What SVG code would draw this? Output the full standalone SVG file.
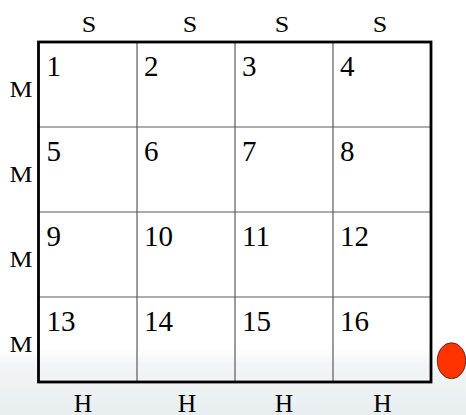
<svg xmlns="http://www.w3.org/2000/svg" width="466" height="415" viewBox="0 0 466 415">
<defs>
<linearGradient id="bg" x1="0" y1="0" x2="0" y2="1">
<stop offset="0" stop-color="#ffffff"/>
<stop offset="0.84" stop-color="#ffffff"/>
<stop offset="0.88" stop-color="#f2f5f6"/>
<stop offset="1" stop-color="#e8eef0"/>
</linearGradient>
<style>
.lbl{font-family:"Liberation Serif","Times New Roman",serif;fill:#000;text-anchor:middle}
.s{font-size:23px}
.m{font-size:22.5px}
.h{font-size:25.5px}
.num{font-family:"Liberation Serif","Times New Roman",serif;font-size:29px;fill:#000}
.inner{stroke:#5a5a5a;stroke-width:1.2;fill:none}
.outer{stroke:#000;stroke-width:2.8;fill:none}
</style>
</defs>
<rect x="0" y="0" width="466" height="415" fill="url(#bg)"/>
<g id="grid-lines">
<line class="inner" x1="137" y1="42" x2="137" y2="382"/>
<line class="inner" x1="235" y1="42" x2="235" y2="382"/>
<line class="inner" x1="333" y1="42" x2="333" y2="382"/>
<line class="inner" x1="38.5" y1="127" x2="431" y2="127"/>
<line class="inner" x1="38.5" y1="212" x2="431" y2="212"/>
<line class="inner" x1="38.5" y1="297" x2="431" y2="297"/>
<rect class="outer" x="38.5" y="42" width="392.5" height="340"/>
</g>
<g id="top-labels">
<text class="lbl s" x="89" y="32" textLength="14.5" lengthAdjust="spacingAndGlyphs">S</text>
<text class="lbl s" x="190" y="32" textLength="14.5" lengthAdjust="spacingAndGlyphs">S</text>
<text class="lbl s" x="282" y="32" textLength="14.5" lengthAdjust="spacingAndGlyphs">S</text>
<text class="lbl s" x="380" y="32" textLength="14.5" lengthAdjust="spacingAndGlyphs">S</text>
</g>
<g id="left-labels">
<text class="lbl m" x="21" y="97" textLength="23" lengthAdjust="spacingAndGlyphs">M</text>
<text class="lbl m" x="21" y="182" textLength="23" lengthAdjust="spacingAndGlyphs">M</text>
<text class="lbl m" x="21" y="267" textLength="23" lengthAdjust="spacingAndGlyphs">M</text>
<text class="lbl m" x="21" y="352" textLength="23" lengthAdjust="spacingAndGlyphs">M</text>
</g>
<g id="bottom-labels">
<text class="lbl h" x="83" y="411.5">H</text>
<text class="lbl h" x="187" y="411.5">H</text>
<text class="lbl h" x="284" y="411.5">H</text>
<text class="lbl h" x="382.5" y="411.5">H</text>
</g>
<g id="cells">
<g id="cell-1"><text class="num" x="46.5" y="76">1</text></g>
<g id="cell-2"><text class="num" x="144" y="76">2</text></g>
<g id="cell-3"><text class="num" x="242" y="76">3</text></g>
<g id="cell-4"><text class="num" x="340" y="76">4</text></g>
<g id="cell-5"><text class="num" x="46.5" y="161">5</text></g>
<g id="cell-6"><text class="num" x="144" y="161">6</text></g>
<g id="cell-7"><text class="num" x="242" y="161">7</text></g>
<g id="cell-8"><text class="num" x="340" y="161">8</text></g>
<g id="cell-9"><text class="num" x="46.5" y="246">9</text></g>
<g id="cell-10"><text class="num" x="144" y="246">10</text></g>
<g id="cell-11"><text class="num" x="242" y="246">11</text></g>
<g id="cell-12"><text class="num" x="340" y="246">12</text></g>
<g id="cell-13"><text class="num" x="46.5" y="331">13</text></g>
<g id="cell-14"><text class="num" x="144" y="331">14</text></g>
<g id="cell-15"><text class="num" x="242" y="331">15</text></g>
<g id="cell-16"><text class="num" x="340" y="331">16</text></g>
</g>
<g id="red-dot">
<ellipse cx="451.5" cy="360.7" rx="14.2" ry="18" fill="#ff3300" stroke="#3a1a10" stroke-width="0.8"/>
</g>
</svg>
